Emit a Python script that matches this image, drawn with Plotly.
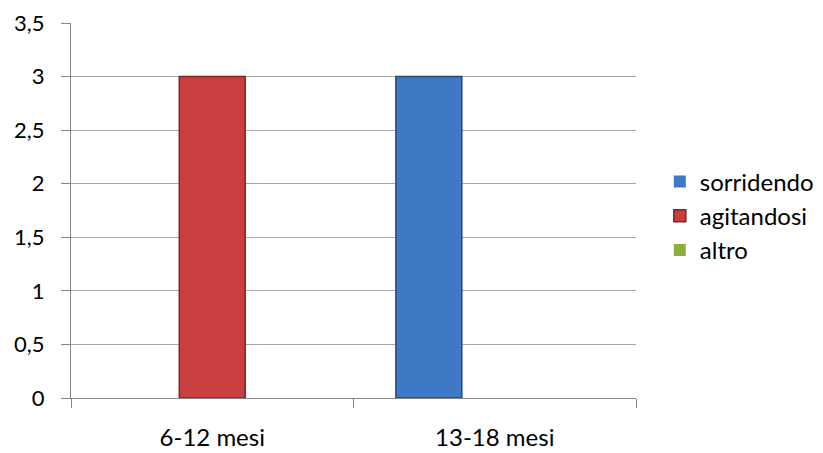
import plotly.graph_objects as go

categories = ["6-12 mesi", "13-18 mesi"]
series_names = ["sorridendo", "agitandosi", "altro"]
sorridendo = [0, 3]
agitandosi = [3, 0]
altro = [0, 0]
y_ticks = [0, 0.5, 1, 1.5, 2, 2.5, 3, 3.5]

colors = ["#3F79C6", "#C93E3E", "#8AAF3E"]
lines = ["#24497A", "#7E2626", "#5A7527"]
values = [sorridendo, agitandosi, altro]

fig = go.Figure()
for name, vals, c, lc in zip(series_names, values, colors, lines):
    fig.add_trace(go.Bar(
        x=categories, y=vals, name=name,
        marker=dict(color=c, line=dict(color=lc, width=[1.5 if v > 0 else 0 for v in vals])),
    ))

FONT = "Lato, Carlito, 'Open Sans', sans-serif"
fig.update_layout(
    width=823, height=453,
    margin=dict(l=63, r=195, t=15, b=63),
    paper_bgcolor="white", plot_bgcolor="white",
    barmode="group", bargap=0.3, bargroupgap=0,
    separators=", ",
    font=dict(family=FONT, size=22, color="#000000"),
    showlegend=True,
    legend=dict(xref="container", yref="container",
                x=0.792, xanchor="left", y=0.541, yanchor="middle",
                font=dict(size=24), itemwidth=30),
    xaxis=dict(
        automargin=False,
        showline=True, linecolor="#868686", linewidth=1.2,
        ticks="outside", tickson="boundaries", ticklen=9, tickcolor="#868686",
        showgrid=False, tickfont=dict(size=24), ticklabelstandoff=18,
    ),
    yaxis=dict(
        automargin=False,
        range=[0, 3.5], tickvals=y_ticks,
        showline=True, linecolor="#868686", linewidth=1.2,
        ticks="outside", ticklen=9, tickcolor="#868686",
        showgrid=True, gridcolor="#A6A6A6", gridwidth=1,
        zeroline=False, tickfont=dict(size=22), ticklabelstandoff=12,
    ),
)

fig.write_html("out.html")
